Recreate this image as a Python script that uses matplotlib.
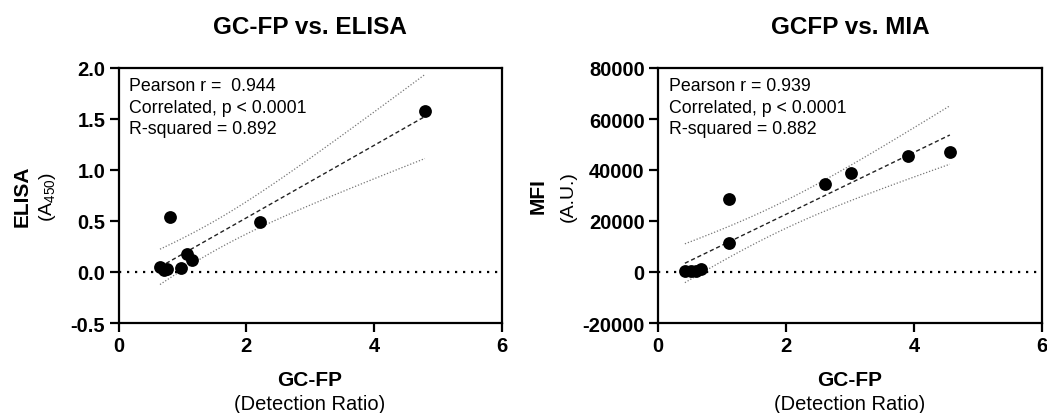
import numpy as np
import matplotlib
matplotlib.use("Agg")
import matplotlib.pyplot as plt

plt.rcParams['font.family'] = ['Liberation Sans', 'DejaVu Sans']
plt.rcParams['mathtext.fontset'] = 'custom'
plt.rcParams['mathtext.rm'] = 'Liberation Sans'
plt.rcParams['mathtext.it'] = 'Liberation Sans:italic'
plt.rcParams['mathtext.bf'] = 'Liberation Sans:bold'

# ---- data: GC-FP vs ELISA ----
elisa_x = [0.65, 0.71, 0.76, 0.98, 1.08, 1.15, 0.81, 2.22, 4.80]
elisa_y = [0.05, 0.02, 0.03, 0.04, 0.18, 0.12, 0.54, 0.49, 1.58]
elisa_stats = ["Pearson r =  0.944", "Correlated, p < 0.0001", "R-squared = 0.892"]

# ---- data: GCFP vs MIA ----
mia_x = [0.42, 0.52, 0.60, 0.67, 1.11, 1.11, 2.61, 3.01, 3.91, 4.56]
mia_y = [500, 300, 300, 1300, 11300, 28600, 34500, 39000, 45400, 47100]
mia_stats = ["Pearson r = 0.939", "Correlated, p < 0.0001", "R-squared = 0.882"]

x_ticks = [0, 2, 4, 6]
elisa_yticks = [-0.5, 0.0, 0.5, 1.0, 1.5, 2.0]
mia_yticks = [-20000, 0, 20000, 40000, 60000, 80000]

T95 = {7: 2.365, 8: 2.306}

W, H = 1047, 414
fig = plt.figure(figsize=(W / 100, H / 100), dpi=100)

def frac_x(px):
    return px / W

def frac_y(py):
    return 1 - py / H

def fit_band(x, y):
    x = np.asarray(x, float)
    y = np.asarray(y, float)
    n = len(x)
    b, a = np.polyfit(x, y, 1)
    xs = np.linspace(x.min(), x.max(), 100)
    yh = a + b * xs
    res = y - (a + b * x)
    s = np.sqrt(np.sum(res ** 2) / (n - 2))
    sxx = np.sum((x - x.mean()) ** 2)
    se = s * np.sqrt(1 / n + (xs - x.mean()) ** 2 / sxx)
    t = T95[n - 2]
    return xs, yh, yh - t * se, yh + t * se

def panel(left_px, right_px, x, y, yticks, yfmt, stats, title, ylab_bold, ylab_reg,
          ylab_x1, ylab_x2):
    top_px, bot_px = 69, 324
    ax = fig.add_axes([frac_x(left_px), frac_y(bot_px),
                       frac_x(right_px - left_px), (bot_px - top_px) / H])
    ax.set_xlim(0, 6)
    ax.set_ylim(yticks[0], yticks[-1])
    ax.set_xticks(x_ticks)
    ax.set_yticks(yticks)
    ax.set_yticklabels([yfmt(v) for v in yticks])
    for sp in ax.spines.values():
        sp.set_linewidth(1.6)
    ax.tick_params(axis='both', direction='out', length=6.5, width=1.6,
                   labelsize=14.5, pad=3.0)
    for lab in ax.get_xticklabels() + ax.get_yticklabels():
        lab.set_fontweight('bold')
    ax.axhline(0, color='black', lw=1.6, ls=(0, (1, 2.6)), zorder=1)
    xs, yh, lo, hi = fit_band(x, y)
    ax.plot(xs, yh, color='#222222', lw=1.0, ls=(0, (3, 2)), zorder=2)
    ax.plot(xs, lo, color='#777777', lw=0.9, ls=(0, (1, 1.5)), zorder=2)
    ax.plot(xs, hi, color='#777777', lw=0.9, ls=(0, (1, 1.5)), zorder=2)
    ax.scatter(x, y, s=85, color='black', zorder=3, linewidths=0)
    for i, s in enumerate(stats):
        ax.text(0.028, 0.93 - i * 0.083, s, transform=ax.transAxes, fontsize=12.8,
                ha='left', va='center')
    cx = (left_px + right_px) / 2
    fig.text(frac_x(cx), frac_y(27), title, ha='center', va='center',
             fontsize=17.5, fontweight='bold')
    fig.text(frac_x(cx), frac_y(381), "GC-FP", ha='center', va='center',
             fontsize=15, fontweight='bold')
    fig.text(frac_x(cx), frac_y(405), "(Detection Ratio)", ha='center', va='center',
             fontsize=14.5)
    cy = (top_px + bot_px) / 2
    fig.text(frac_x(ylab_x1), frac_y(cy), ylab_bold, ha='center', va='center',
             rotation=90, fontsize=15, fontweight='bold')
    fig.text(frac_x(ylab_x2), frac_y(cy), ylab_reg, ha='center', va='center',
             rotation=90, fontsize=14)
    return ax

def fmt_elisa(v):
    return f"{v:.1f}"

def fmt_mia(v):
    return f"{int(v)}"

panel(118.5, 501.5, elisa_x, elisa_y, elisa_yticks, fmt_elisa, elisa_stats,
      "GC-FP vs. ELISA", "ELISA", "(A$_{450}$)", 22, 48)
panel(658, 1042, mia_x, mia_y, mia_yticks, fmt_mia, mia_stats,
      "GCFP vs. MIA", "MFI", "(A.U.)", 538, 568)

fig.savefig("out.png", dpi=100)
